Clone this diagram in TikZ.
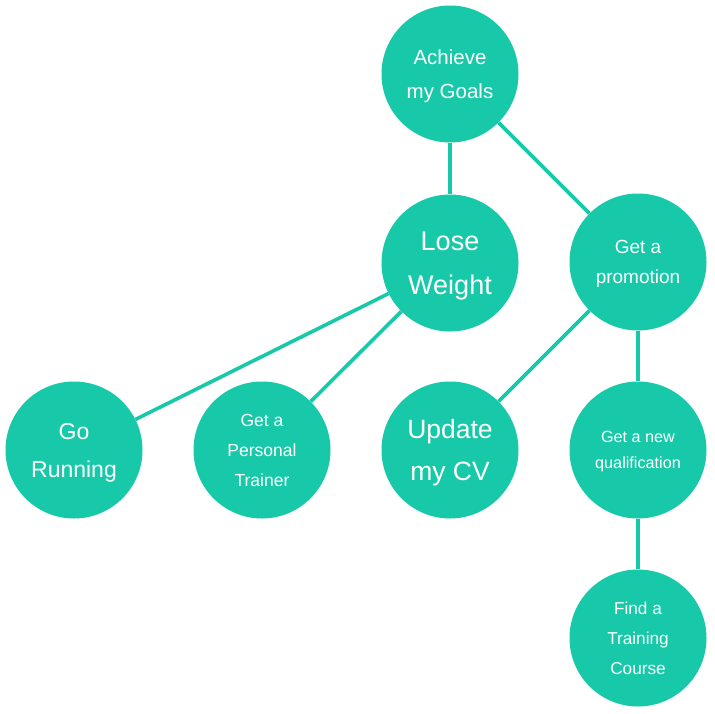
\documentclass[tikz,border=0pt]{standalone}
\usepackage{fontspec}
\setmainfont{Liberation Sans}
\definecolor{teal1}{RGB}{24,201,169}
\begin{document}
\begin{tikzpicture}[x=1pt,y=-1pt,
  goal/.style={circle,fill=teal1,minimum size=137pt,inner sep=0pt,text=white,align=center,text depth=0pt},
  link/.style={draw=teal1,line width=3.6pt}]
\useasboundingbox (0,0) rectangle (715,713);
\node[goal,font=\fontsize{20.5}{34}\selectfont] (achieve) at (450,74) {Achieve\\my Goals};
\node[goal,font=\fontsize{27}{44}\selectfont] (lose) at (450,263) {Lose\\Weight};
\node[goal,font=\fontsize{19}{30}\selectfont] (promo) at (638,262) {Get a\\promotion};
\node[goal,font=\fontsize{23}{38}\selectfont] (run) at (74,450) {Go\\Running};
\node[goal,font=\fontsize{17.5}{30}\selectfont] (trainer) at (262,450) {Get a\\Personal\\Trainer};
\node[goal,font=\fontsize{26.5}{42}\selectfont] (cv) at (450,450) {Update\\my CV};
\node[goal,font=\fontsize{16.2}{26}\selectfont] (qual) at (638,450) {Get a new\\qualification};
\node[goal,font=\fontsize{17.2}{30}\selectfont] (course) at (638,638) {Find a\\Training\\Course};
\draw[link] (achieve) -- (lose);
\draw[link] (achieve) -- (promo);
\draw[link] (lose) -- (run);
\draw[link] (lose) -- (trainer);
\draw[link] (promo) -- (cv);
\draw[link] (promo) -- (qual);
\draw[link] (qual) -- (course);
\end{tikzpicture}
\end{document}
